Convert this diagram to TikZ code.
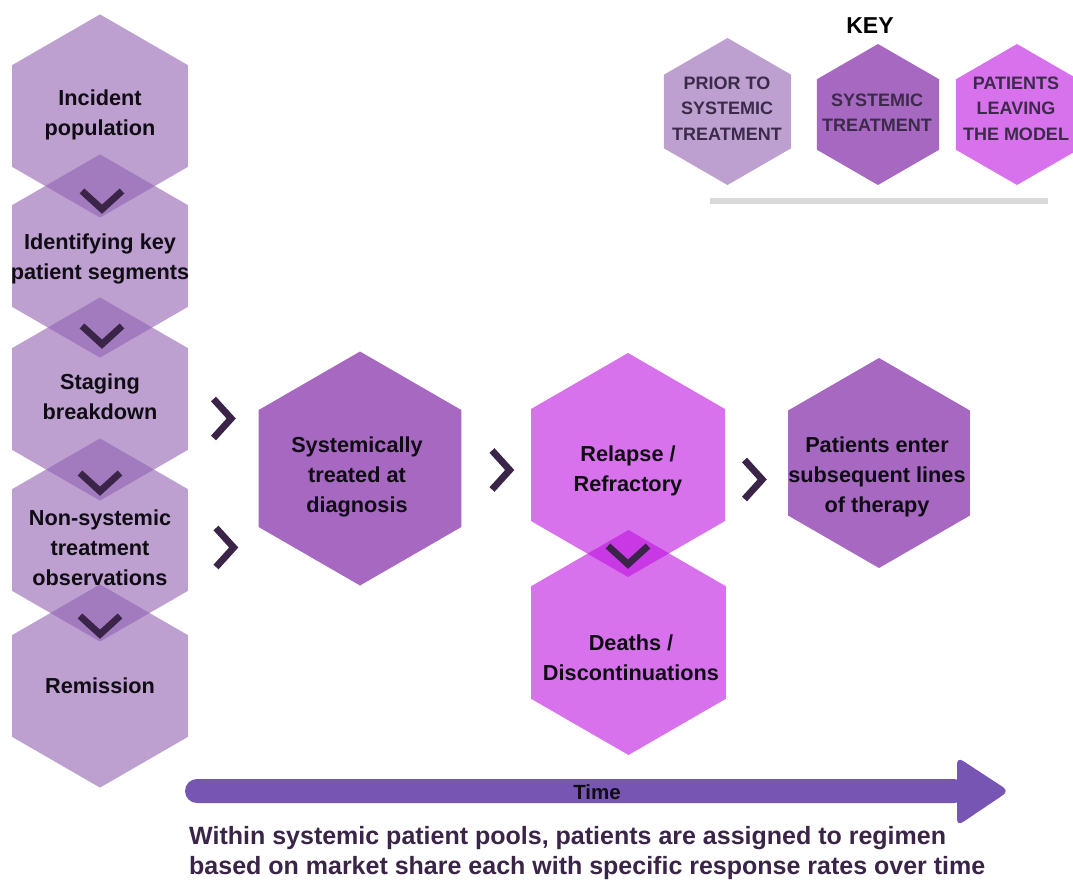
\documentclass[tikz,border=0pt]{standalone}
\usepackage{fontspec}
\setmainfont{Liberation Sans}
\definecolor{leftc}{RGB}{145,98,178}
\definecolor{systc}{RGB}{166,104,192}
\definecolor{pinkc}{RGB}{189,16,223}
\definecolor{chevc}{RGB}{58,36,72}
\definecolor{timec}{RGB}{118,86,178}
\definecolor{keyc}{RGB}{60,42,74}
\definecolor{labelc}{RGB}{16,12,20}
\definecolor{linec}{RGB}{217,217,217}
\newcommand{\hexfill}[4]{\fill[#4] (#1,#2) +(90:#3) -- +(150:#3) -- +(210:#3) -- +(270:#3) -- +(330:#3) -- +(30:#3) -- cycle;}
\newcommand{\chevdown}[2]{\draw[chev] (#1-20,#2-23) -- (#1,#2-4.8) -- (#1+20,#2-23);}
\newcommand{\chevright}[2]{\draw[chev] (#1-22.5,#2-19.5) -- (#1-4.8,#2) -- (#1-22.5,#2+19.5);}
\begin{document}
\begin{tikzpicture}[x=1pt,y=-1pt,
  lbl/.style={align=center, font=\fontsize{21.7}{30}\selectfont\bfseries, text=labelc, inner sep=0pt},
  keylbl/.style={align=center, font=\fontsize{18}{25.5}\selectfont\bfseries, text=keyc, inner sep=0pt},
  chev/.style={draw=chevc, line width=6.8pt, line join=miter, miter limit=10},
  leftfill/.style={fill=leftc, fill opacity=0.6},
  systfill/.style={fill=systc},
  pinkfill/.style={fill=pinkc, fill opacity=0.59}]
\clip (0,0) rectangle (1073,879);
\fill[white] (0,0) rectangle (1073,879);
% left column
\hexfill{100}{116}{101.6}{leftfill}
\hexfill{100}{256}{101.6}{leftfill}
\hexfill{100}{399}{101.6}{leftfill}
\hexfill{100}{540}{101.6}{leftfill}
\hexfill{100}{686}{101.6}{leftfill}
% main flow
\hexfill{360}{468.5}{117}{systfill}
\hexfill{628}{465}{112}{pinkfill}
\hexfill{628.5}{642.5}{112.5}{pinkfill}
\hexfill{879}{463}{105}{systfill}
% key
\hexfill{727.5}{111.5}{73.5}{leftfill}
\hexfill{878}{114.5}{70.5}{systfill}
\hexfill{1017}{114.5}{70.5}{pinkfill}
\draw[linec, line width=6pt] (710,201) -- (1048,201);
% chevrons
\chevdown{102}{214}
\chevdown{102}{349}
\chevdown{100}{496}
\chevdown{100}{639}
\chevdown{628}{569}
\chevright{236}{418.5}
\chevright{238.5}{547.5}
\chevright{514.5}{470}
\chevright{767}{479.5}
% time arrow
\fill[timec, rounded corners=12pt] (185,779) rectangle (966,803);
\fill[timec, rounded corners=7pt] (957,757) -- (1009,791) -- (957,826) -- cycle;
% labels
\node[lbl] (inc) at (100,115) {Incident\\population};
\node[lbl] (ident) at (100,259) {Identifying key\\patient segments};
\node[lbl] (stag) at (100,396.5) {Staging\\breakdown};
\node[lbl] (nonsys) at (100,548) {Non-systemic\\treatment\\observations};
\node[lbl] (remis) at (100,686) {Remission};
\node[lbl] (systx) at (357,476.5) {Systemically\\treated at\\diagnosis};
\node[lbl] (relap) at (628,471) {Relapse /\\Refractory};
\node[lbl] (death) at (631,657.5) {Deaths /\\Discontinuations};
\node[lbl] (subs) at (877,476.5) {Patients enter\\subsequent lines\\of therapy};
\node[keylbl] (k1) at (727,108.5) {PRIOR TO\\SYSTEMIC\\TREATMENT};
\node[keylbl] (k2) at (877,112.5) {SYSTEMIC\\TREATMENT};
\node[keylbl] (k3) at (1016,108.5) {PATIENTS\\LEAVING\\THE MODEL};
\node[font=\fontsize{23}{26}\selectfont\bfseries, text=black, inner sep=0pt] (key) at (870,26) {KEY};
\node[font=\fontsize{20.5}{24}\selectfont\bfseries, text=labelc, inner sep=0pt] (time) at (597,792) {Time};
\node[font=\fontsize{25}{30}\selectfont\bfseries, text=chevc, inner sep=0pt, anchor=base west] (note1) at (189,844) {Within systemic patient pools, patients are assigned to regimen};
\node[font=\fontsize{25}{30}\selectfont\bfseries, text=chevc, inner sep=0pt, anchor=base west] (note2) at (189,874) {based on market share each with specific response rates over time};
\end{tikzpicture}
\end{document}
